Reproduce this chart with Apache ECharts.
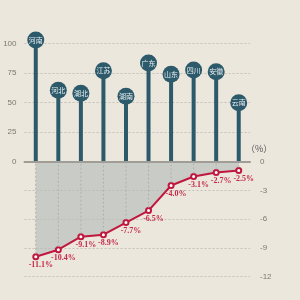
<!DOCTYPE html>
<html><head><meta charset="utf-8">
<script src="https://cdn.jsdelivr.net/npm/echarts@6/dist/echarts.min.js"></script>
<style>html,body{margin:0;padding:0;background:#ece7dd}#c{width:300px;height:300px}</style>
</head><body><div id="c"></div>
<script>
const provinces = ['河南','河北','湖北','江苏','湖南','广东','山东','四川','安徽','云南'];
const topValues = [102.8, 60.3, 57.8, 76.9, 55.2, 83.4, 73.8, 77.4, 76.0, 49.8];
const changeValues = [-11.1, -10.4, -9.1, -8.9, -7.7, -6.5, -4.0, -3.1, -2.7, -2.5];
const topTicks = [0, 25, 50, 75, 100];
const rightTicks = [0, -3, -6, -9, -12];

const LINE_MIN = -13.07, LINE_MAX = -1.66;
const chart = echarts.init(document.getElementById('c'));
const lblFont = 'Liberation Sans';
chart.setOption({
  backgroundColor: '#ece7dd',
  animation: false,
  grid: [
    {left: 24.5, right: 50, top: 43.3, height: 118.4},
    {left: 24.5, right: 50, top: 162, bottom: 23.5}
  ],
  xAxis: [
    {type: 'category', gridIndex: 0, data: provinces, boundaryGap: true,
     axisLine: {lineStyle: {color: '#a09d96', width: 2}}, axisTick: {show: false}, axisLabel: {show: false}, z: 5},
    {type: 'category', gridIndex: 1, data: provinces, boundaryGap: true,
     axisLine: {show: false}, axisTick: {show: false}, axisLabel: {show: false}}
  ],
  yAxis: [
    {type: 'value', gridIndex: 0, min: topTicks[0], max: topTicks[topTicks.length-1], interval: 25,
     axisLine: {show: false}, axisTick: {show: false},
     axisLabel: {color: '#7a7873', fontSize: 8, fontFamily: lblFont, margin: 8},
     splitLine: {lineStyle: {color: '#c4c1ba', type: [2, 2], width: 1}}},
    {type: 'value', gridIndex: 1, position: 'right', min: rightTicks[rightTicks.length-1], max: rightTicks[0], interval: 3,
     name: '（%）', nameLocation: 'end', nameGap: 9,
     nameTextStyle: {color: '#555', fontSize: 9, fontFamily: 'Noto Sans CJK SC', align: 'left', padding: [0,0,0,-4]},
     axisLine: {show: false}, axisTick: {show: false},
     axisLabel: {color: '#7a7873', fontSize: 8, fontFamily: lblFont, margin: 10},
     splitLine: {lineStyle: {color: '#c4c1ba', type: [2, 2], width: 1}}},
    {type: 'value', gridIndex: 1, min: LINE_MIN, max: LINE_MAX, show: false, splitLine: {show: false}}
  ],
  series: [
    {type: 'bar', xAxisIndex: 0, yAxisIndex: 0, data: topValues, barWidth: 4, clip: false,
     itemStyle: {color: '#2c5a6a'}, z: 2},
    {type: 'scatter', xAxisIndex: 0, yAxisIndex: 0, clip: false,
     data: provinces.map((p, i) => [p, topValues[i]]), symbolSize: 17,
     itemStyle: {color: '#2c5a6a', opacity: 1}, z: 3,
     label: {show: true, position: 'inside', formatter: p => p.value[0], color: '#e8eef0', fontSize: 7, fontFamily: 'Noto Sans CJK SC'}},
    {type: 'line', xAxisIndex: 1, yAxisIndex: 2, data: changeValues,
     lineStyle: {color: '#c0173f', width: 2}, itemStyle: {color: '#c0173f'},
     symbol: 'emptyCircle', symbolSize: 5,
     areaStyle: {origin: 'end', color: 'rgba(178,186,183,0.6)', opacity: 1},
     label: {show: true, position: 'bottom', distance: 1, offset: [5, 0], formatter: p => p.value.toFixed(1) + '%',
       color: '#c42a48', fontSize: 8, fontWeight: 'bold', fontFamily: 'Liberation Serif'}, z: 4},
    {type: 'custom', xAxisIndex: 1, yAxisIndex: 2, data: provinces.map((p, i) => [i, changeValues[i]]), z: 5,
     renderItem: (params, api) => {
       const a = api.coord([api.value(0), api.value(1)]);
       const b = api.coord([api.value(0), LINE_MAX]);
       return {type: 'line', shape: {x1: a[0], y1: a[1] - 3, x2: b[0], y2: b[1]},
         style: {stroke: '#aeb1ac', lineWidth: 1, lineDash: [2, 2]}};
     }}
  ]
});
</script></body></html>
